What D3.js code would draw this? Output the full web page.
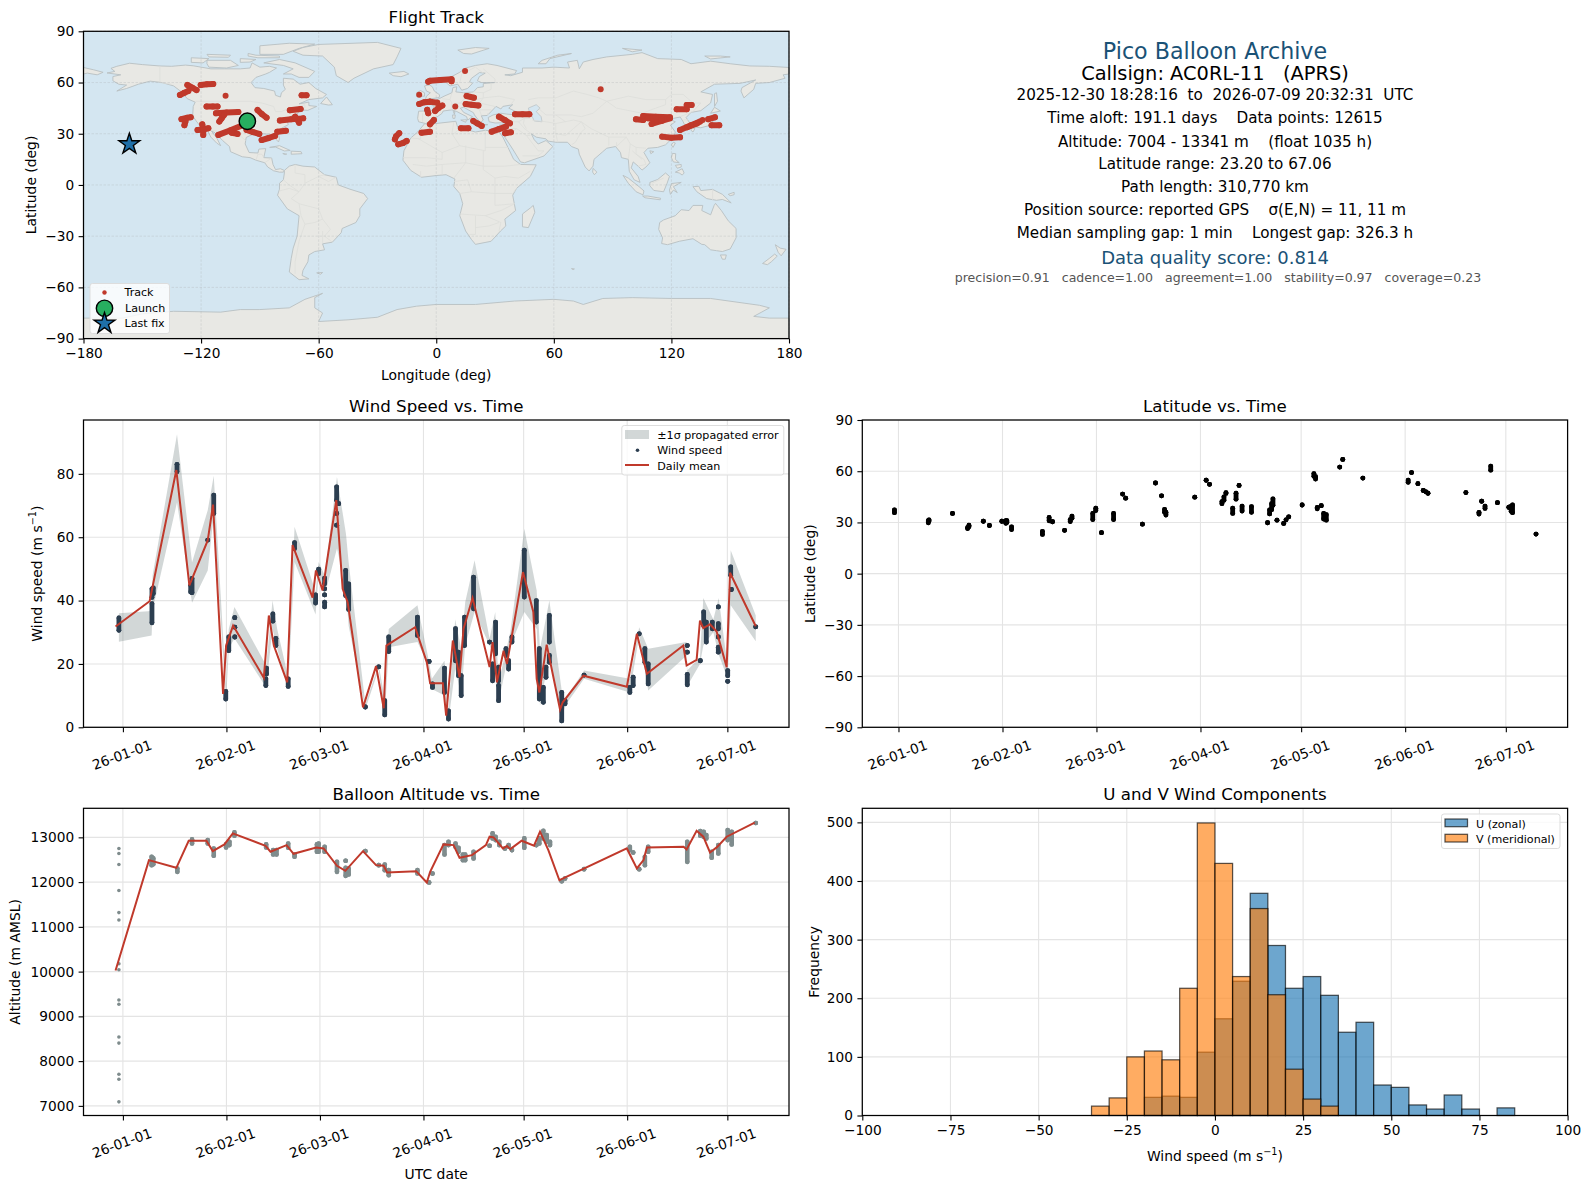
<!DOCTYPE html>
<html><head><meta charset="utf-8">
<script src="https://cdn.jsdelivr.net/npm/d3@7/dist/d3.min.js"></script>
<style>html,body{margin:0;padding:0;background:#fff}svg{display:block;font-family:"DejaVu Sans",sans-serif}</style>
</head><body><svg id="c" width="1590" height="1189"></svg>
<script>
// ---------- data (days are counted from 2026-01-01 UTC) ----------
const landPolys=[
[[-168,65.6],[-164,66.5],[-166,68.3],[-163,69.5],[-156.5,71.3],[-150,70.5],[-141,69.7],[-135,69.5],[-128,70.2],[-124,69.8],[-115,68],[-108,68],[-100,68],[-95,68.5],[-94,71.5],[-90,69],[-85,69.5],[-81.5,68.5],[-85,66],[-87,65],[-92,63],[-94.5,60],[-92.5,57],[-88,56.5],[-82.5,55],[-82,52.5],[-79.5,51.5],[-79,54],[-77,56],[-78,58.5],[-78,62.5],[-73,62],[-69.5,59],[-65,60],[-61.5,56.5],[-56,53],[-58,51],[-65,50],[-70,47.5],[-65,48.5],[-65,46.5],[-61,46],[-65.5,43.7],[-70,44],[-70.5,42],[-74,40.5],[-76,37],[-75.5,35.3],[-78,33.8],[-81,31.8],[-80,27],[-80.5,25.2],[-82,27],[-83,29.2],[-85,29.7],[-89,30],[-90,29],[-94,29.5],[-97,27.8],[-97.5,24],[-95.5,19],[-91,18.7],[-90.5,21],[-87,21.3],[-88,16],[-84,15.8],[-83.3,12],[-82,9],[-79.5,9.5],[-77.5,8.5],[-78,7.5],[-80,7.5],[-83,8.3],[-86,10.5],[-87.5,13],[-92,14.5],[-95,16],[-99,16.5],[-105,19.5],[-105.5,22.5],[-109,26],[-112.8,30.5],[-114.8,31.7],[-112,27.5],[-110,23],[-112,24.5],[-115,28],[-117,32.5],[-120.5,34.5],[-122.5,37.5],[-124.3,40.5],[-124,46],[-123,48.5],[-127,50.5],[-130,54.5],[-134,58],[-140,60],[-146,60.8],[-152,59],[-158,56.5],[-163,55],[-158,58.5],[-162,59],[-165,61],[-165,63.5],[-161,64.5]],
[[-80,73.5],[-72,71.5],[-67,69],[-62,66.5],[-65,63],[-70,63],[-74,65],[-78,65],[-73,68],[-78,70],[-88,71.5]],
[[-117,73],[-105,73],[-101,70],[-107,68.5],[-116,69],[-117,71]],
[[-125,74.5],[-116,74],[-119,71.5],[-125,71.8]],
[[-90,76.5],[-78,76.5],[-70,80],[-62,82.5],[-75,83],[-90,81.5]],
[[-96,77],[-92,76],[-80,75.5],[-80,74.5],[-91,74.5],[-96,75.5]],
[[-117,76.5],[-105,76],[-106,74.8],[-116,75]],
[[-100,74],[-92,73.5],[-95,72],[-100,71.8]],
[[-59,47.7],[-56,51.5],[-53,47],[-55,46.8]],
[[-73,78.3],[-68,76],[-58,75.5],[-52,69],[-51,64],[-45,60],[-42,62.5],[-32,68],[-22,70.5],[-20,75],[-18,80],[-30,83.5],[-60,82.3],[-68,80.5]],
[[-24,65.5],[-22,64],[-18,63.4],[-14,65],[-16.5,66.5]],
[[-85,22],[-80,23],[-74.5,20.2],[-77.5,19.9],[-82,22.2]],
[[-74,19.8],[-69,19.5],[-68.5,18.3],[-74,18]],
[[-78.3,18.4],[-76.3,18.1],[-77,17.8]],
[[-77.5,8.5],[-75,11],[-72,12],[-68,11],[-62,10.5],[-57,6],[-51,4.5],[-50,0],[-44,-2.5],[-37,-5],[-35,-8],[-39,-14],[-39,-18],[-41,-22],[-48,-25.5],[-48.5,-28],[-53,-33.5],[-58,-34.5],[-57,-38],[-62,-39],[-65,-41],[-65.5,-45],[-68,-50],[-68.5,-53],[-65,-55],[-70,-55.5],[-75,-51],[-74,-43],[-73,-37],[-71,-30],[-70,-18],[-76,-14],[-81,-6],[-80,-2.5],[-80,1],[-78,3],[-77.5,7]],
[[-6,35.8],[0,36],[10,37.3],[11,33.5],[15,32.5],[20,31],[25,32],[32,31.2],[34,28],[37,21],[39.5,15],[43,12],[51,11.8],[48,5],[41,-2],[39,-6],[40.5,-15],[35,-20],[35.5,-24],[32.8,-27],[28,-33],[20,-34.8],[18,-32],[15,-27],[12,-18],[13.5,-11],[12,-5],[9,-1],[9.5,3.5],[5,6],[0,5.5],[-7.5,4.5],[-13,8.5],[-17,14.5],[-16.5,20],[-13,27.5],[-9.5,31]],
[[49.5,-12],[50.3,-16],[47,-25],[44,-24.5],[44,-17],[48,-13.5]],
[[-9,37],[-9.5,39],[-9,43.2],[-2,43.5],[-1,46],[-4.5,48.3],[-1.5,48.8],[1.5,50.5],[4,52],[8,54],[8.5,57],[10.5,57.5],[10,54.5],[14,54],[19,54.5],[21,57],[24,57.5],[24,59.4],[30,60],[23,60],[21,61],[22,63.5],[25,65.5],[22,65.8],[18,62.5],[17,60.5],[18.5,59.5],[16,56.5],[13,55.5],[11,59],[7,58],[5,60],[5.5,62],[12,66],[15,68.5],[20,70],[26,71],[31,70],[41,67],[40,65],[35,64.5],[38,64],[44,66],[44,68.5],[54,68.5],[60,69],[68,68.5],[67,72],[72,73],[73,68],[75,72],[80,73.5],[87,75],[100,76.5],[105,77.5],[113,74],[125,73.5],[130,71],[140,72.5],[150,71],[160,69.7],[170,69.5],[180,68.8],[180,65],[177,64.5],[178,62.5],[170,60],[163,59.5],[162,56],[157,51],[155.5,55],[156,57],[163,61.5],[155,59.5],[142,59],[135,54.5],[141,53],[140,48],[135,43.5],[130,42.5],[127.5,39.5],[129.5,36],[127,34.5],[126,37],[124.5,39.8],[121,39],[118,39],[122,37],[119.5,35],[122,31],[121,28],[117,23.5],[113,22],[108,21.5],[106,19],[109,13],[107,10.5],[105,8.7],[103,11],[100.5,13.5],[99.5,10],[103,5],[104,1.5],[101,3],[98.5,8],[98,15],[94.5,16],[94,19],[91.5,22.5],[87,21.5],[85,19.5],[80.5,15],[80,11],[78,8.2],[76,10.5],[73,18],[72.5,21],[69,22.5],[67,25],[61,25],[57,25.7],[56,27],[51,28],[48.5,30],[50,26.5],[52,24],[56,26],[59.5,22.5],[55,17],[45,13],[43,13.5],[39,21],[35,28],[34.5,31.5],[36,36.5],[30,36.3],[27,37],[26.5,39.5],[29,41],[33,42],[36,41.5],[41,41],[41.5,42.5],[37,45],[39,47],[34,46],[33,44.5],[30.5,46],[28,43],[26,40.7],[23,40.5],[24,38],[22.5,36.5],[19.5,41],[19,42.3],[14,45.5],[12.3,45],[14,42.5],[18.5,40],[16,38],[15.5,40],[10.5,43],[8,44],[3.5,43.3],[3,42],[0,39.5],[-2,36.8],[-5.5,36]],
[[-180,68.8],[-175,67.5],[-170,66],[-173,64.5],[-178,65.5],[-180,65]],
[[131,34],[135,33.5],[140,35],[141.5,38],[141.5,41],[140,40.5],[137,37],[133,35.5]],
[[140,42],[145,43.3],[142,45.5]],
[[130,33.5],[132,33],[131,31],[130,32]],
[[142,46],[143.5,49],[143,54],[142,53.5],[142,48]],
[[121,25],[122,24.5],[120.8,22],[120,23.5]],
[[109,20],[111,19.5],[109.5,18.3]],
[[120.5,18.5],[122.2,18.3],[122,15],[124,13],[121,13.5],[120,16]],
[[122,7.5],[125.5,9.5],[126.5,7],[125.5,5.8],[124,7]],
[[122,11.5],[125,12],[125,10.5],[123,9.8]],
[[109,1.5],[113,3.2],[117,7],[119,5],[117.8,1],[116,-4],[111,-3.2],[109,-0.5]],
[[95.3,5.6],[98,4],[103.5,-1],[106,-3.5],[105.5,-5.8],[102,-4],[98,1]],
[[105.3,-6.5],[108,-6.5],[114.5,-7.8],[114.3,-8.7],[106.5,-7.5]],
[[119.5,-5.5],[119,-3],[120,0.8],[125,1.5],[121,-1],[123,-4.5],[121,-3]],
[[131,-1],[134,-0.8],[135,-3.3],[141,-2.6],[146,-5.5],[150.5,-10.5],[146,-8.5],[143,-9],[138,-8],[133,-4]],
[[149,-5.5],[152,-4.3],[152,-5.7],[150,-6.3]],
[[80,9.7],[82,7.5],[80.7,6],[79.8,7.5]],
[[114,-22],[116,-20.5],[122,-18],[125,-14.5],[129,-15],[131,-12],[136,-12],[135.5,-15],[140,-17.5],[141.8,-12],[142.5,-10.8],[145.5,-15],[149,-21],[153,-25.5],[153,-31],[150,-37.5],[146,-39],[143,-38.5],[140,-38],[137,-35],[135.5,-34.8],[131,-31.5],[124,-33],[118,-35],[115,-34.3],[115.5,-31],[113.5,-26]],
[[145,-41],[148,-41],[147.5,-43.5],[146,-43.5]],
[[173,-35],[175.5,-37],[178.5,-37.7],[176,-41.5],[174.5,-39.5]],
[[172.7,-40.5],[174,-41.7],[171,-45],[169,-46.7],[166.5,-46],[170,-43]],
[[-5.5,50],[1.5,51.2],[1.7,52.8],[-1,55],[-2,57.5],[-3.5,58.6],[-6,58],[-5,55],[-3,54],[-5,52]],
[[-10,52],[-6,52],[-6,54],[-8,55.3],[-10,54]],
[[12.5,38],[15.5,38.2],[15,36.7]],[[8.3,41],[9.7,41],[9.5,39],[8.5,39]],[[8.7,43],[9.5,43],[9.3,41.4]],
[[23.5,35.5],[26.3,35.3],[24,35]],[[32.3,35],[34.5,35.6],[33.5,34.6]],
[[11,79],[20,80.5],[27,80],[18,76.7],[14,77]],
[[52,71],[56,71],[58,74],[69,77],[62,76],[54,73]],
[[137,75.5],[145,75.5],[150,75],[140,73.8]],
[[95,80],[105,79],[100,78]],
[[69,-49],[70.5,-49.2],[69.8,-49.6]],
[[-61,-51.5],[-58,-51.3],[-59,-52.3]],
[[-180,-78],[-160,-78],[-150,-75.5],[-134,-74],[-110,-74.5],[-100,-73],[-90,-73],[-75,-72],[-67,-67],[-58,-63.5],[-62,-66],[-62,-72],[-58,-75],[-60,-80],[-45,-79],[-30,-77.5],[-20,-73],[-10,-71],[0,-70],[20,-70],[40,-68],[60,-67],[70,-68],[75,-70],[85,-66.5],[100,-66],[120,-66.5],[140,-66.5],[165,-70.5],[170,-72],[162,-77],[170,-78],[180,-78],[180,-90],[-180,-90]]];
const lakePolys=[[[47,45],[51,47],[53,45],[51,43],[53.5,40],[54,37],[50,37.5],[49,40],[47.5,43]]];
const borderLines=[
[[-123,49],[-95,49],[-89,48],[-83,46],[-82,43],[-79,43],[-75,45],[-70,46],[-67,47],[-67,45]],[[-141,69.7],[-141,60],[-135,59]],
[[-117,32.5],[-111,31.3],[-106,31.7],[-101,29.7],[-97.2,26]],[[-92,14.5],[-91,18],[-89,18],[-88,16]],[[-87.5,13],[-84,15.8]],
[[-72,12],[-72,7],[-67,6],[-67,1],[-70,-4],[-75,0],[-78,3]],[[-67,1],[-60,5],[-57,6]],[[-60,5],[-55,2],[-51,4.5]],[[-80,-3.5],[-75,-2],[-70,-4],[-74,-8],[-70,-11],[-69,-18]],[[-70,-11],[-60,-14],[-58,-20],[-54,-26],[-57,-30],[-53,-33.5]],[[-69,-18],[-67,-23],[-70,-33],[-72,-45],[-72,-52]],[[-67,-23],[-62,-22],[-58,-20]],[[-58,-27],[-58,-34]],
[[-8,27],[-13,27.5]],[[-9,27],[3,19],[12,23],[25,20],[25,32]],[[25,22],[37,22]],[[-2,35],[-8,30],[-8,27]],[[9,37],[8,30],[12,23]],[[12,33],[9,30]],[[-17,16],[-5,16],[3,15],[3,19]],[[-12,12],[-5,11],[3,12],[15,13],[24,11],[35,11]],[[15,23],[15,13],[9,4]],[[24,20],[24,9],[30,4],[35,5],[42,4],[48,8]],[[35,11],[43,12]],[[12,-5],[18,-4],[30,-5],[30,-12],[40,-11]],[[18,-4],[16,3],[9,2]],[[30,4],[30,-5],[39,-5],[41,-2]],[[12,-17],[25,-18],[33,-15],[40,-11]],[[20,-18],[20,-29],[17,-29]],[[25,-18],[33,-22],[32,-27]],[[20,-25],[27,-24],[32,-22]],[[3,12],[3,6]],[[-8,8],[-8,4.5]],
[[-1.8,43.4],[3,42.5]],[[-7,37],[-7,42]],[[8,54],[7,50],[3,50.5]],[[7,50],[8,48],[7.5,44]],[[14,54],[15,51],[12,48],[9,47.5]],[[15,51],[19,49.5],[24,51],[24,54],[19,54.5]],[[12,48],[17,48],[22,48],[24,51]],[[14,46],[19,46],[22,44],[23,41]],[[22,48],[30,46]],[[22,44],[28,44]],[[24,54],[28,56],[28,59.5]],[[24,51],[32,52],[40,50],[38,47]],[[24,68],[30,62],[30,60]],[[24,65.5],[20,69]],[[12,60],[13,65],[20,69]],[[27,41],[26,42]],[[36,37],[42,37],[45,39],[41,41]],[[45,39],[48,39]],[[42,37],[45,33],[48.5,30]],[[36,33],[41,33],[38,30],[35,29]],[[41,33],[46,29],[48,29]],[[46,29],[52,20],[55,20],[52,17]],[[44,17],[52,17]],[[45,39],[44.5,36],[46,33]],[[49,38],[56,37],[61,36],[61,30],[62,25]],[[61,36],[70,38],[74,37],[70,33],[66,29],[61,30]],[[74,37],[76,33],[74,31],[71,25],[69,23.5]],[[47,50],[52,51],[61,51],[70,55],[77,53],[83,51],[87,49]],[[52,45],[56,41],[61,41],[66,37]],[[61,41],[69,41],[74,40],[80,42],[85,47],[87,49]],[[87,49],[98,52],[107,50],[117,50],[120,53],[126,53],[131,48],[135,48],[131,43]],[[87,49],[92,45],[105,42],[112,45],[117,47],[117,50]],[[74,37],[79,33],[88,28],[97,28],[99,24],[102,22],[107,21.5]],[[88,28],[88,23]],[[92,25],[92,22.5],[97,28]],[[99,24],[98,15]],[[102,22],[102,18],[106,15],[107,12],[103,11]],[[100,20],[105,15]],[[124.5,40],[131,43]],[[126,38],[128.5,38.3]],[[116,4],[110,1]],[[141,-2.6],[141,-9]]];
const trackRuns=[
[[-130.8,52.7],[-128.5,54],[-126.5,55]],[[-127,58.6],[-124.5,57],[-122.3,55.6]],[[-120.2,58.6],[-117,59],[-113.8,59.2]],[[-107.5,52.3]],[[-117.2,46],[-114,46],[-111.6,46]],
[[-112.4,42],[-107,42.4],[-101,42.8]],[[-110.7,37.1],[-109.5,39],[-108.3,41]],[[-130,38.5],[-127,39.4],[-125.3,39.6]],[[-128.5,35],[-128,37]],[[-121.8,32.2],[-119,32.5],[-116.3,33.2]],[[-119.4,35.5],[-118.9,32],[-118.9,29.3]],
[[-111.2,29.3],[-105,32],[-98.5,35.1]],[[-104.4,30.6],[-101.4,29.9]],[[-96.8,32.2],[-93.5,31],[-90.3,29.9]],[[-89.1,26.3],[-85.5,27.5],[-82.3,28.7]],[[-81.1,31.2],[-76.7,31.8]],[[-91.2,43.9],[-89,41.5],[-86.6,39.4]],
[[-79.8,37.7],[-74,38.5],[-67.9,39]],[[-72,40],[-70,36.5]],[[-74.7,43.7],[-69.2,44.5]],[[-68.7,52.5],[-66.2,52.5]],[[-21.1,26.7],[-20.5,28.5],[-18.9,30.3]],[[-19.4,23.8],[-17,24.5],[-15.1,25.8]],[[-8.7,52.9]],[[-8.7,47.4],[-6,48.5],[-3.2,48.8]],[[-4.6,44],[-4.1,42]],
[[-4.1,60.5],[-3.2,61.1],[2,61.5],[7.8,61.9],[7.8,60.8]],[[-7.5,30.6],[-3.2,31.2]],[[14.7,66.8]],[[-3.2,48.8],[0.5,48.2]],[[-0.6,43.3],[1,45],[3.1,46.5]],[[-3.2,35.5],[-1.2,38.1]],[[9.7,45.9]],[[15.5,52.1],[19.2,51.1]],[[15,47.4],[18,47],[21.5,46.5]],[[18.9,37.5],[21,36],[23.2,34.6]],[[12.6,33.2],[16.4,33.2]],[[32,40],[35,38],[37.6,36.1]],[[28.3,31.2],[32,32.7],[35.6,34.2]],[[35.1,30.3],[38.1,30.9]],[[40.2,41.4],[44,41.4],[47.5,41.4]],[[83.9,56]],
[[101.9,38.5],[105.6,38.1]],[[105.6,40.4],[112,40],[119.2,39.6]],[[109.9,35.7],[115,37.5],[119.2,39]],[[108,39],[115,38.2]],[[115.3,28.3],[120,27.7],[124.4,27.9]],[[124.4,32.2],[130,35],[134.6,37.1]],[[128,33.8],[133,36]],[[122.7,44.3],[127.8,44.3]],[[127.8,46.9],[130.3,46.9]],[[135.9,38.1]],[[138.8,38.5],[142.2,39.6]],[[140.5,34.9],[144.4,34.9]]];
const launchPoint=[-96.4,37.3];
const lastFixPoint=[-156.6,23.9];
const mapXTicks=[-180,-120,-60,0,60,120,180];
const mapYTicks=[-90,-60,-30,0,30,60,90];
const windTicks=[0,20,40,60,80];
const latTicks=[-90,-60,-30,0,30,60,90];
const altTicks=[7000,8000,9000,10000,11000,12000,13000];
const histXTicks=[-100,-75,-50,-25,0,25,50,75,100];
const histYTicks=[0,100,200,300,400,500];
// [day, value] daily mean
const windMean=[[-2.2,31.8],[8,39.8],[16,81.2],[19.9,44.8],[25.4,59],[27,70.3],[30,10.5],[30.9,25.8],[33,32.1],[42.2,15.6],[43.7,35.3],[45.2,25.8],[49.2,14.2],[50.8,57.5],[56.8,40.9],[57.8,49.5],[59.8,43.2],[63.9,71.7],[65.8,43.7],[67.3,39.5],[71.9,6.3],[75.8,19.3],[78.1,6],[78.9,25.8],[87.5,31.6],[91,20.5],[92,13.9],[95.8,13.9],[96.8,3.7],[98.8,27.4],[100.8,15.8],[102,31.1],[104.7,40.8],[109.8,19],[110.7,26.9],[112,14.2],[114,24.2],[115,20],[119.8,49],[122.9,36.4],[123.9,15.3],[124.7,11],[126.9,26.1],[130.9,5.6],[131.7,7.9],[137.9,16.3],[150.9,12.8],[153.9,29.5],[156.9,16.9],[167.8,25.8],[168.8,19.5],[171.8,21.3],[172.8,33.7],[173.8,31.3],[175.8,32.5],[177.8,30.2],[180.8,19],[181.8,48.8],[189.5,31.9]];
// [day, low, high] propagated error band
const windBand=[[-1.2,27,36],[8.6,29,36.7],[8.9,37,48],[16.2,71,92.5],[20.7,39.3,52],[25.4,49.5,68.5],[27.2,67,79.4],[30.9,8.4,12.5],[31.7,24.8,31],[33.4,28,38],[42.9,12.6,19.5],[44.8,31,40],[46.2,24.8,31],[49.5,12.6,15.8],[51.4,52.2,63.3],[57.7,35.6,42.7],[58.6,48,52.2],[60.4,41.6,48],[64.1,56.4,79],[66.8,43.7,61],[67.6,32,52],[72.6,5.8,7.4],[76.6,18.4,19.7],[78.4,3.1,9],[79.6,25.3,31],[88.2,26.9,38.5],[91.5,19.5,21.6],[92.5,12.1,15.3],[96.3,10,21],[97.5,2,5.8],[99.5,18.4,34],[101.3,10,24.8],[102.5,25.8,39.5],[105.3,36.4,52.7],[109.8,25.8,28],[111.5,21.6,36.4],[112.5,7.9,14.2],[116,25.8,30],[120.2,36.4,62.7],[123.9,31,43.2],[124.9,6.8,24.8],[127.7,22.7,40],[131.4,2,11.6],[132.4,6.8,8.9],[138.1,15.3,17.9],[151.8,11,15.3],[154.6,29,31.6],[157.3,11.6,24.8],[168.8,22.7,26.9],[169,13,18],[172.8,20,22],[173.8,25.8,40.8],[176.8,30,34],[178.4,23,40.8],[181.1,15.3,19],[182,38.5,55.9],[189.5,27.2,35.3]];
// [day, top, bottom] runs of wind samples
const windRuns=[[-1.2,34.5,30.6],[8.7,43.7,41],[8.7,39,33],[9.1,44,42.2],[16.2,83,80.7],[20.7,47,42.5],[20.3,44.8,42.7],[25.4,59.1,59.1],[27.2,73.3,67.5],[30.8,11.3,8.9],[31.7,28.5,24.2],[33.5,34.6,34.6],[33.5,31.6,31.6],[33.5,28.5,28.5],[43,18.7,16.8],[42.8,15.3,13.2],[44.9,35.8,33.5],[45.8,28.1,25.8],[49.5,15.3,12.9],[51.4,58.3,56.4],[57.7,41.8,39.2],[58.6,49.9,48.5],[60.4,47.1,45.3],[60.4,43.7,43.7],[60.4,41.8,41.8],[60.4,39.5,38],[64,75.9,71.7],[64.6,70.6,70.6],[64,67.5,67.5],[64,63.8,63.8],[66.7,49.5,41.6],[67.6,45.3,37.2],[72.6,6.4,6.4],[76.6,19.1,19.1],[78.4,8.4,3.9],[79.6,28.5,23.9],[88.2,34.8,29],[91.7,20.8,20.8],[92.7,13.7,12.6],[96.3,18.7,11],[97.5,5.2,2.6],[99.6,31.1,21],[100.5,23.7,16.3],[101.3,16.3,10],[102.3,34.8,25.8],[105,47.4,37.4],[109.8,26.9,26.9],[110.7,20,14.7],[111.6,33.2,23.2],[112.5,19,14.7],[112.5,13.2,8.4],[114.7,24.8,22.7],[115.5,21,18.4],[116.5,28.5,26.9],[120.2,55.9,41.1],[123.8,40,33.2],[124.7,24.8,8.9],[125.9,12.6,7.9],[126.7,19,15.8],[127.7,35.3,26.9],[127.7,22.7,20.5],[131.4,11,2],[132.4,8.4,7.4],[138.1,16.5,16.5],[151.8,12.6,11],[152.8,15.8,13.2],[154.6,29.5,29.5],[156.3,24.8,20.5],[157.3,20,13.7],[169,25.8,25.8],[169,23.7,23.7],[169,16.7,13.4],[172.9,21,21],[173.9,36.4,32.1],[174.7,33.2,26.9],[176.5,33.2,31.1],[178.3,38,38],[178.3,32.7,31.1],[178.3,28.5,28.5],[178.3,25.3,23.7],[181.1,17.9,16.3],[181.1,14.5,14.5],[182,50.6,48],[182.2,43.5,43.5],[189.5,31.7,31.7]];
// [day, top, bottom] runs of latitude samples
const latRuns=[[-1.2,37.3,35.7],[8.9,31,29.8],[9.1,31.5,30.8],[16.1,35.3,35.3],[20.6,27,26.4],[21,28.4,27.4],[25.3,30.7,30.7],[27.1,28.2,28.2],[30.8,30.7,30.7],[32,31,29.5],[32.3,31,30],[33.7,27.4,25.8],[42.9,24.8,23],[44.9,32.9,31],[45.9,30.4,30.4],[49.5,25.4,25.4],[51.2,31.7,30.5],[51.7,33.7,32.5],[57.9,35.3,31.7],[58.8,38.3,37],[60.5,24,24],[64.1,35.3,31.7],[66.8,46.6,46.6],[67.7,44.2,44.2],[72.7,29,29],[76.6,53.1,53.1],[78.4,45.6,45.6],[79.3,37.7,36],[79.7,36,34.3],[88.3,44.8,44.8],[91.7,54.7,54.7],[92.7,52.3,52.3],[96.4,42.2,41],[97,45,43],[97.6,47.5,47],[100.6,47.1,43.6],[101.5,51.7,51.7],[99.6,38.3,35.3],[102.4,39.6,36.7],[105.2,39.3,35.9],[110,29.8,29.8],[112.8,31.3,31.3],[114.8,29.4,29.4],[115.5,31.5,31.5],[116.3,33.3,33.3],[110.6,37.3,35],[111.2,41,37.5],[111.6,43.8,40],[120.3,40.2,40.2],[123.8,58.6,57],[124.3,56.8,55.4],[124.8,38.8,38],[126,39.8,39.8],[126.7,35.3,32],[127.5,34.5,31.3],[131.5,62.4,62.4],[132.4,66.9,66.9],[138.4,56,56],[151.9,54.8,53.5],[152.9,59.2,59.2],[154.8,52.7,52.7],[156.4,48.7,48.7],[157.2,47.9,47.9],[157.8,47.1,47.1],[169.1,47.5,47.5],[173.8,42.4,42.4],[174.8,39.6,38.2],[173,35.9,34.9],[176.5,63,60.6],[178.5,41.6,41.6],[181.9,38.9,38.9],[183,40.2,35.7],[182.6,39.5,36.5],[190,23.2,23.2]];
const altMean=[[-2.2,10025],[7.8,12491],[16,12319],[19.7,12924],[25,12924],[26.9,12692],[30.4,12842],[32.9,13089],[42.7,12812],[44.2,12678],[49,12827],[51.1,12633],[57.9,12775],[60.1,12752],[64.1,12364],[66.6,12252],[71.9,12692],[75.8,12379],[78.1,12364],[79.1,12214],[87.8,12244],[91,11990],[92,12230],[96,12842],[99,12827],[100.8,12543],[104.5,12603],[108.7,12827],[109.8,13014],[111,13000],[113.8,12752],[115,12805],[116,12737],[119.4,12924],[123.1,12812],[124.9,13126],[127.4,12715],[130.7,12042],[150.9,12752],[153.9,12304],[155.9,12491],[156.9,12775],[167.9,12790],[168.8,12730],[171.8,13148],[173.8,13014],[175.8,12663],[177.8,12775],[180.8,13014],[189.2,13328]];
// launch ascent samples
const altAscent=[12752,12640,12394,11811,11318,11153,10174,10040,9367,9270,8538,8403,7708,7596,7090];
const altAscentDay=-1.2;
const altRuns=[[8.6,12565,12379],[9.1,12530,12400],[16.3,12304,12229],[20.7,12954,12864],[25.4,12939,12864],[27.2,12752,12588],[30.9,12842,12775],[31.9,12902,12827],[33.4,13111,13036],[42.9,12842,12775],[45,12715,12618],[46,12715,12618],[49.5,12864,12767],[51.4,12618,12566],[58.1,12842,12678],[58.6,12864,12678],[60.4,12790,12678],[64.1,12453,12229],[66.7,12476,12476],[66.7,12319,12140],[67.6,12304,12170],[72.6,12692,12692],[76.6,12379,12379],[78.4,12394,12267],[79.6,12267,12155],[88.2,12267,12192],[91.7,11990,11990],[92.7,12192,12192],[96.3,12827,12618],[97.5,12902,12827],[99.6,12864,12790],[100.5,12767,12678],[101.8,12618,12491],[102.5,12618,12491],[105,12678,12528],[109.8,12812,12812],[110.7,13089,12977],[111.6,13014,12939],[112.7,12902,12827],[114.4,12752,12752],[115.5,12827,12790],[116.5,12715,12715],[120.2,12977,12767],[123.8,12827,12827],[124.7,12977,12864],[125.9,13148,12977],[126.9,13051,12902],[127.9,12902,12827],[131.4,12020,12020],[132.4,12080,12080],[138.1,12289,12289],[151.8,12790,12715],[152.8,12663,12663],[154.6,12289,12289],[156.3,12566,12379],[157.3,12790,12678],[169,12902,12453],[172.9,13141,13036],[173.9,13126,13014],[174.7,13051,12977],[176.3,12678,12543],[178.3,12827,12640],[181.1,13163,12939],[182.3,13126,12842],[189.5,13320,13320]];
// histogram bins: 5 m/s wide starting at -100
const binEdges=d3.range(-100,101,5);
const uCounts=[0,0,0,0,0,0,0,0,0,0,0,0,0,0,0,0,31,33,31,108,165,229,379,290,217,237,205,142,159,52,48,18,11,35,11,0,13,0,0,0];
const vCounts=[0,0,0,0,0,0,0,0,0,0,0,0,0,16,30,100,110,95,217,499,430,237,353,206,79,28,16,0,0,0,0,0,0,0,0,0,0,0,0,0];
const infoLines=[
["Pico Balloon Archive",22.2,"#1a5276",50.7,1215],["Callsign: AC0RL-11   (APRS)",19.4,"#000",73.3,1215],
["2025-12-30 18:28:16  to  2026-07-09 20:32:31  UTC",15.2,"#000",95.3,1215],["Time aloft: 191.1 days    Data points: 12615",15.2,"#000",118.3,1215],
["Altitude: 7004 - 13341 m    (float 1035 h)",15.2,"#000",141.6,1215],["Latitude range: 23.20 to 67.06",15.2,"#000",164,1215],
["Path length: 310,770 km",15.2,"#000",187,1215],["Position source: reported GPS    σ(E,N) = 11, 11 m",15.2,"#000",210.3,1215],
["Median sampling gap: 1 min    Longest gap: 326.3 h",15.2,"#000",233.3,1215],["Data quality score: 0.814",18,"#1a5276",257,1215],
["precision=0.91   cadence=1.00   agreement=1.00   stability=0.97   coverage=0.23",12.55,"#555",277.5,1218]];
// ---------- layout ----------
const TICK=13.7,TITLE=16.67,LABEL=13.9,LEG=11.1;
const C1=[83.5,789],C2=[862.3,1567.6],R1=[31.3,338.6],R2=[420,727.3],R3=[808.3,1115.5];
const svg=d3.select("#c");
const day=d=>new Date(Date.UTC(2026,0,1)+d*864e5);
const monthTicks=d3.utcMonth.range(day(0),day(190));
const fmtDate=d3.utcFormat("%y-%m-%d");
const RED="#c0392b",NAVY="#2c3e50",GRAY="#7f8c8d";
function frame(name,xs,ys,yTicks,opt={}){
  const g=svg.append("g").attr("class",name);
  const gridColor="#e4e4e4";
  const grid=g.append("g");
  if(opt.noGrid!==true){
    grid.selectAll("line.v").data(opt.xTicks).join("line").attr("x1",d=>xs(d)).attr("x2",d=>xs(d)).attr("y1",ys.range()[0]).attr("y2",ys.range()[1]).attr("stroke",gridColor).attr("stroke-width",1.1);
    grid.selectAll("line.h").data(yTicks).join("line").attr("y1",d=>ys(d)).attr("y2",d=>ys(d)).attr("x1",xs.range()[0]).attr("x2",xs.range()[1]).attr("stroke",gridColor).attr("stroke-width",1.1);
  }
  return g;
}
function finish(g,xs,ys,xTicks,yTicks,opt={}){
  const top=ys.range()[1],bot=ys.range()[0],l=xs.range()[0],r=xs.range()[1];
  g.append("rect").attr("x",l).attr("y",top).attr("width",r-l).attr("height",bot-top).attr("fill","none").attr("stroke","#000").attr("stroke-width",1.25);
  const ax=g.append("g").attr("transform",`translate(0,${bot})`).call(d3.axisBottom(xs).tickValues(xTicks).tickSizeOuter(0).tickSize(4.9).tickPadding(4.5).tickFormat(opt.xf||d3.format("d")));
  const ay=g.append("g").attr("transform",`translate(${l},0)`).call(d3.axisLeft(ys).tickValues(yTicks).tickSizeOuter(0).tickSize(4.9).tickPadding(4.5).tickFormat(opt.yf||d3.format("d")));
  [ax,ay].forEach(a=>{a.select(".domain").remove();a.selectAll("line").attr("stroke","#000").attr("stroke-width",1.1);a.selectAll("text").attr("fill","#000").attr("font-size",TICK).attr("font-family","DejaVu Sans");});
  if(opt.rotate){ax.selectAll("text").each(function(){d3.select(this).attr("y",null).attr("dy",null).attr("text-anchor","middle").attr("dominant-baseline","central").attr("transform","translate(-1.5,27.4) rotate(-20)");});}
}
function text(s,x,y,size,o={}){
  const t=svg.append("text").attr("x",x).attr("y",y).attr("font-size",size).attr("fill",o.fill||"#000").attr("text-anchor",o.anchor||"middle").attr("dominant-baseline",o.base||"central").style("white-space","pre");
  if(o.rot)t.attr("transform",`rotate(${o.rot},${x},${y})`);
  t.text(s);return t;
}
function unitText(x,y,o={}){
  const t=text("",x,y,LABEL,o);
  t.append("tspan").text("Wind speed (m s");
  t.append("tspan").attr("dy",-5).attr("font-size",9.7).text("−1");
  t.append("tspan").attr("dy",5).text(")");
  return t;
}
function title(s,cols,rowTop){text(s,(cols[0]+cols[1])/2,rowTop-8.3,TITLE,{base:"auto"});}
function runsLayer(g,runs,xs,ys,color,r){
  const j=g.append("g");
  j.selectAll("line").data(runs).join("line").attr("x1",d=>xs(day(d[0]))).attr("x2",d=>xs(day(d[0]))).attr("y1",d=>ys(d[1])).attr("y2",d=>ys(d[2])).attr("stroke",color).attr("stroke-width",2*r).attr("stroke-linecap","round");
  j.selectAll("circle").data(runs.flatMap(d=>[[d[0],d[1]],[d[0],d[2]]])).join("circle").attr("cx",d=>xs(day(d[0]))).attr("cy",d=>ys(d[1])).attr("r",r).attr("fill",color);
}
// ---------- map ----------
{
  const xs=d3.scaleLinear().domain([-180,180]).range(C1),ys=d3.scaleLinear().domain([-90,90]).range([R1[1],R1[0]]);
  const g=frame("map",xs,ys,mapYTicks,{noGrid:true});
  const line=d3.line().x(d=>xs(d[0])).y(d=>ys(d[1]));
  const closed=d3.line().x(d=>xs(d[0])).y(d=>ys(d[1])).curve(d3.curveLinearClosed);
  g.append("rect").attr("x",C1[0]).attr("y",R1[0]).attr("width",C1[1]-C1[0]).attr("height",R1[1]-R1[0]).attr("fill","#d4e6f1");
  g.append("g").selectAll("path").data(landPolys).join("path").attr("d",closed).attr("fill","#e8e8e4").attr("stroke","#b8bfc2").attr("stroke-width",0.9).attr("stroke-linejoin","round");
  g.append("g").selectAll("path").data(lakePolys).join("path").attr("d",closed).attr("fill","#d4e6f1").attr("stroke","#b8bfc2").attr("stroke-width",0.7);
  g.append("g").selectAll("path").data(borderLines).join("path").attr("d",line).attr("fill","none").attr("stroke","#dddedb").attr("stroke-width",0.8);
  const gr=g.append("g").attr("stroke","#a9adb0").attr("stroke-opacity",.42).attr("stroke-width",.7).attr("stroke-dasharray","2.5,1.5");
  gr.selectAll("line.v").data(mapXTicks).join("line").attr("x1",d=>xs(d)).attr("x2",d=>xs(d)).attr("y1",R1[0]).attr("y2",R1[1]);
  gr.selectAll("line.h").data(mapYTicks).join("line").attr("y1",d=>ys(d)).attr("y2",d=>ys(d)).attr("x1",C1[0]).attr("x2",C1[1]);
  const tk=g.append("g");
  tk.selectAll("path").data(trackRuns.filter(r=>r.length>1)).join("path").attr("d",line).attr("fill","none").attr("stroke",RED).attr("stroke-width",6).attr("stroke-linecap","round").attr("stroke-linejoin","round");
  tk.selectAll("circle").data(trackRuns.flat()).join("circle").attr("cx",d=>xs(d[0])).attr("cy",d=>ys(d[1])).attr("r",3).attr("fill",RED);
  g.append("circle").attr("cx",xs(launchPoint[0])).attr("cy",ys(launchPoint[1])).attr("r",8.2).attr("fill","#27ae60").attr("stroke","#000").attr("stroke-width",1.4);
  const star=d3.symbol(d3.symbolStar).size(135);
  g.append("path").attr("d",star).attr("transform",`translate(${xs(lastFixPoint[0])},${ys(lastFixPoint[1])})`).attr("fill","#1f6fa8").attr("stroke","#000").attr("stroke-width",1.4);
  // legend
  const lg=g.append("g");
  lg.append("rect").attr("x",90).attr("y",283.5).attr("width",79.5).attr("height",50).attr("rx",2.5).attr("fill","#fff").attr("fill-opacity",.8).attr("stroke","#ddd").attr("stroke-width",1);
  lg.append("circle").attr("cx",104.5).attr("cy",292.5).attr("r",2.2).attr("fill",RED);
  lg.append("circle").attr("cx",104.5).attr("cy",308.3).attr("r",8.2).attr("fill","#27ae60").attr("stroke","#000").attr("stroke-width",1.4);
  lg.append("path").attr("d",star).attr("transform","translate(104.5,323.5)").attr("fill","#1f6fa8").attr("stroke","#000").attr("stroke-width",1.4);
  finish(g,xs,ys,mapXTicks,mapYTicks);
  text("Track",124.5,292.3,LEG,{anchor:"start"});text("Launch",125,308.5,LEG,{anchor:"start"});text("Last fix",124.5,323.5,LEG,{anchor:"start"});
  title("Flight Track",C1,R1[0]);
  text("Longitude (deg)",(C1[0]+C1[1])/2,374.5,LABEL);
  text("Latitude (deg)",31,(R1[0]+R1[1])/2,LABEL,{rot:-90});
}
// ---------- info panel ----------
infoLines.forEach(l=>text(l[0],l[4],l[3],l[1],{fill:l[2]}));
// ---------- wind ----------
{
  const xs=d3.scaleUtc().domain([day(-11.8),day(199.46)]).range(C1),ys=d3.scaleLinear().domain([0,97]).range([R2[1],R2[0]]);
  const g=frame("wind",xs,ys,windTicks,{xTicks:monthTicks});
  const cp="clipW";svg.append("clipPath").attr("id",cp).append("rect").attr("x",C1[0]).attr("y",R2[0]).attr("width",C1[1]-C1[0]).attr("height",R2[1]-R2[0]);
  const p=g.append("g").attr("clip-path",`url(#${cp})`);
  p.append("path").datum(windBand).attr("d",d3.area().x(d=>xs(day(d[0]))).y0(d=>ys(d[1])).y1(d=>ys(d[2]))).attr("fill",GRAY).attr("fill-opacity",.35);
  runsLayer(p,windRuns,xs,ys,NAVY,2.4);
  p.append("path").datum(windMean).attr("d",d3.line().x(d=>xs(day(d[0]))).y(d=>ys(d[1]))).attr("fill","none").attr("stroke",RED).attr("stroke-width",2);
  finish(g,xs,ys,monthTicks,windTicks,{xf:fmtDate,rotate:true});
  const lg=g.append("g");
  lg.append("rect").attr("x",621.8).attr("y",425.5).attr("width",162).attr("height",49.5).attr("rx",2.5).attr("fill","#fff").attr("fill-opacity",.8).attr("stroke","#ddd");
  lg.append("rect").attr("x",625).attr("y",430).attr("width",24).attr("height",9).attr("fill",GRAY).attr("fill-opacity",.35);
  lg.append("circle").attr("cx",637.5).attr("cy",450.2).attr("r",1.8).attr("fill",NAVY);
  lg.append("line").attr("x1",625).attr("x2",649).attr("y1",465).attr("y2",465).attr("stroke",RED).attr("stroke-width",2);
  text("±1σ propagated error",657.3,435,LEG,{anchor:"start"});text("Wind speed",657.3,450.3,LEG,{anchor:"start"});text("Daily mean",657.3,466,LEG,{anchor:"start"});
  title("Wind Speed vs. Time",C1,R2[0]);
  unitText(37.5,(R2[0]+R2[1])/2,{rot:-90});
}
// ---------- latitude ----------
{
  const xs=d3.scaleUtc().domain([day(-10.78),day(199.41)]).range(C2),ys=d3.scaleLinear().domain([-90,90]).range([R2[1],R2[0]]);
  const g=frame("lat",xs,ys,latTicks,{xTicks:monthTicks});
  runsLayer(g,latRuns,xs,ys,"#000",2.4);
  finish(g,xs,ys,monthTicks,latTicks,{xf:fmtDate,rotate:true});
  title("Latitude vs. Time",C2,R2[0]);
  text("Latitude (deg)",810,(R2[0]+R2[1])/2,LABEL,{rot:-90});
}
// ---------- altitude ----------
{
  const xs=d3.scaleUtc().domain([day(-11.8),day(199.46)]).range(C1),ys=d3.scaleLinear().domain([6785,13649]).range([R3[1],R3[0]]);
  const g=frame("alt",xs,ys,altTicks,{xTicks:monthTicks});
  runsLayer(g,altRuns,xs,ys,GRAY,2.3);
  g.append("g").selectAll("circle").data(altAscent).join("circle").attr("cx",xs(day(altAscentDay))).attr("cy",d=>ys(d)).attr("r",1.8).attr("fill",GRAY);
  g.append("path").datum(altMean).attr("d",d3.line().x(d=>xs(day(d[0]))).y(d=>ys(d[1]))).attr("fill","none").attr("stroke",RED).attr("stroke-width",2);
  finish(g,xs,ys,monthTicks,altTicks,{xf:fmtDate,rotate:true});
  title("Balloon Altitude vs. Time",C1,R3[0]);
  text("Altitude (m AMSL)",15.5,(R3[0]+R3[1])/2,LABEL,{rot:-90});
  text("UTC date",(C1[0]+C1[1])/2,1173.5,LABEL);
}
// ---------- histogram ----------
{
  const xs=d3.scaleLinear().domain([-100,100]).range(C2),ys=d3.scaleLinear().domain([0,524]).range([R3[1],R3[0]]);
  const g=frame("hist",xs,ys,histYTicks,{xTicks:histXTicks});
  const bars=(counts,color)=>g.append("g").selectAll("rect").data(counts).join("rect").attr("x",(d,i)=>xs(binEdges[i])).attr("width",(d,i)=>xs(binEdges[i+1])-xs(binEdges[i])).attr("y",d=>ys(d)).attr("height",d=>ys(0)-ys(d)).attr("fill",color).attr("fill-opacity",.65).attr("stroke","#000").attr("stroke-opacity",.65).attr("stroke-width",1.25);
  bars(uCounts,"#1f77b4");bars(vCounts,"#ff7f0e");
  finish(g,xs,ys,histXTicks,histYTicks);
  const lg=g.append("g");
  lg.append("rect").attr("x",1441.5).attr("y",814).attr("width",118.5).attr("height",34.5).attr("rx",2.5).attr("fill","#fff").attr("fill-opacity",.8).attr("stroke","#ddd");
  [["#1f77b4",819,"U (zonal)",824],["#ff7f0e",834.3,"V (meridional)",839.3]].forEach(([c,y,s,ty])=>{
    lg.append("rect").attr("x",1445).attr("y",y).attr("width",22.5).attr("height",7.7).attr("fill",c).attr("fill-opacity",.65).attr("stroke","#000").attr("stroke-opacity",.65).attr("stroke-width",1.25);
    text(s,1476,ty,LEG,{anchor:"start"});
  });
  title("U and V Wind Components",C2,R3[0]);
  text("Frequency",814,(R3[0]+R3[1])/2,LABEL,{rot:-90});
  unitText((C2[0]+C2[1])/2,1155.5);
}
</script></body></html>
